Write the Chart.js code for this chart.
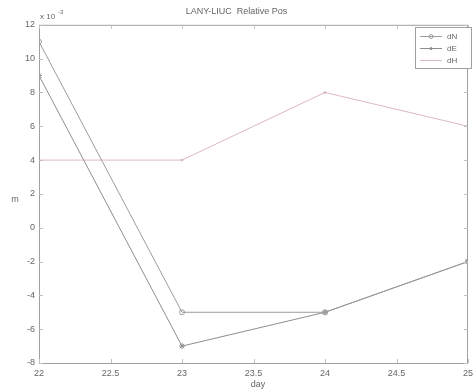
<!DOCTYPE html>
<html><head><meta charset="utf-8">
<script src="https://cdn.jsdelivr.net/npm/chart.js@4.4.0/dist/chart.umd.min.js"></script>
<style>html,body{margin:0;padding:0;background:#fff}#wrap{width:473px;height:392px}</style>
</head><body><div id="wrap"><canvas id="c" width="473" height="392"></canvas></div>
<script>
const days = [22, 23, 24, 25];
const dN = [11, -5, -5, -2];
const dE = [9, -7, -5, -2];
const dH = [4, 4, 8, 6];
const xTicks = [22, 22.5, 23, 23.5, 24, 24.5, 25];
const yTicks = [-8, -6, -4, -2, 0, 2, 4, 6, 8, 10, 12];
const seriesNames = ['dN', 'dE', 'dH'];
const titleText = 'LANY-LIUC  Relative Pos';

const FONT = 'Liberation Sans, Arial, sans-serif';
const colors = ['#9c9c9c', '#8e8e8e', '#dcb9c0'];
const pts = v => v.map((y, i) => ({x: days[i], y}));

const frame = {
  id: 'frame',
  afterDraw(chart) {
    const {ctx, chartArea: a, scales} = chart;
    ctx.save();
    ctx.strokeStyle = '#a0a0a0'; ctx.lineWidth = 1;
    ctx.strokeRect(a.left + 0.5, a.top + 0.5, a.right - a.left - 1, a.bottom - a.top);
    ctx.strokeStyle = '#c0c0c0';
    xTicks.forEach(t => { const x = Math.round(scales.x.getPixelForValue(t)) + 0.5;
      ctx.beginPath(); ctx.moveTo(x, a.bottom); ctx.lineTo(x, a.bottom - 4); ctx.moveTo(x, a.top); ctx.lineTo(x, a.top + 4); ctx.stroke(); });
    yTicks.forEach(t => { const y = Math.round(scales.y.getPixelForValue(t)) + 0.5;
      ctx.beginPath(); ctx.moveTo(a.left, y); ctx.lineTo(a.left + 4, y); ctx.moveTo(a.right, y); ctx.lineTo(a.right - 4, y); ctx.stroke(); });
    ctx.fillStyle = '#666'; ctx.font = '8px ' + FONT; ctx.textBaseline = 'alphabetic';
    ctx.fillText('x 10', a.left + 1, a.top - 6);
    ctx.font = '6px ' + FONT; ctx.fillText('-3', a.left + 19, a.top - 11);
    ctx.font = '9px ' + FONT; ctx.textAlign = 'center'; ctx.textBaseline = 'middle';
    ctx.fillText('m', 15, 200);
    ctx.fillText('day', 258, 385);
    const lx = 415, ly = 27, lw = 56, lh = 41;
    ctx.fillStyle = '#fff'; ctx.fillRect(lx, ly, lw, lh);
    ctx.strokeStyle = '#a0a0a0'; ctx.strokeRect(lx + 0.5, ly + 0.5, lw, lh);
    ctx.font = '8px ' + FONT; ctx.textAlign = 'left';
    seriesNames.forEach((n, i) => {
      const yy = ly + 9 + i * 12;
      ctx.strokeStyle = colors[i]; ctx.beginPath(); ctx.moveTo(lx + 5, yy + 0.5); ctx.lineTo(lx + 27, yy + 0.5); ctx.stroke();
      ctx.fillStyle = colors[i];
      if (i === 0) { ctx.beginPath(); ctx.arc(lx + 16, yy + 0.5, 2, 0, 7); ctx.stroke(); }
      else if (i === 1) { ctx.beginPath(); ctx.arc(lx + 16, yy + 0.5, 1.5, 0, 7); ctx.fill(); }
      ctx.fillStyle = '#666'; ctx.fillText(n, lx + 32, yy + 1);
    });
    ctx.restore();
  }
};

new Chart(document.getElementById('c'), {
  type: 'line',
  data: { datasets: [
    {label: seriesNames[0], data: pts(dN), borderColor: colors[0], backgroundColor: 'rgba(0,0,0,0)', pointBorderColor: colors[0], pointStyle: 'circle', pointRadius: 2.5, borderWidth: 1},
    {label: seriesNames[1], data: pts(dE), borderColor: colors[1], backgroundColor: colors[1], pointStyle: 'star', pointRadius: 3, borderWidth: 1},
    {label: seriesNames[2], data: pts(dH), borderColor: colors[2], backgroundColor: colors[2], pointRadius: 1, borderWidth: 1}
  ]},
  options: {
    responsive: false, animation: false, devicePixelRatio: 1,
    layout: {padding: {top: 2, right: 0, left: 0, bottom: 0}},
    plugins: {
      legend: {display: false}, tooltip: {enabled: false},
      title: {display: true, text: titleText, color: '#666', font: {family: FONT, size: 9, weight: 'normal'}, padding: {top: 4, bottom: 8}}
    },
    scales: {
      x: {type: 'linear', min: 22, max: 25,
        afterBuildTicks: s => { s.ticks = xTicks.map(v => ({value: v})); },
        afterFit: s => { s.height = 29; s.paddingLeft = 0; s.paddingRight = 0; },
        grid: {display: false, drawTicks: false}, border: {display: false},
        ticks: {color: '#666', font: {family: FONT, size: 9}, padding: 5, maxRotation: 0, autoSkip: false, callback: v => String(v)}},
      y: {type: 'linear', min: -8, max: 12,
        afterBuildTicks: s => { s.ticks = yTicks.map(v => ({value: v})); },
        afterFit: s => { s.width = 39; s.paddingTop = 0; s.paddingBottom = 0; },
        grid: {display: false, drawTicks: false}, border: {display: false},
        ticks: {color: '#666', font: {family: FONT, size: 9}, padding: 4, autoSkip: false, callback: v => String(v)}}
    }
  },
  plugins: [frame]
});
</script></body></html>
